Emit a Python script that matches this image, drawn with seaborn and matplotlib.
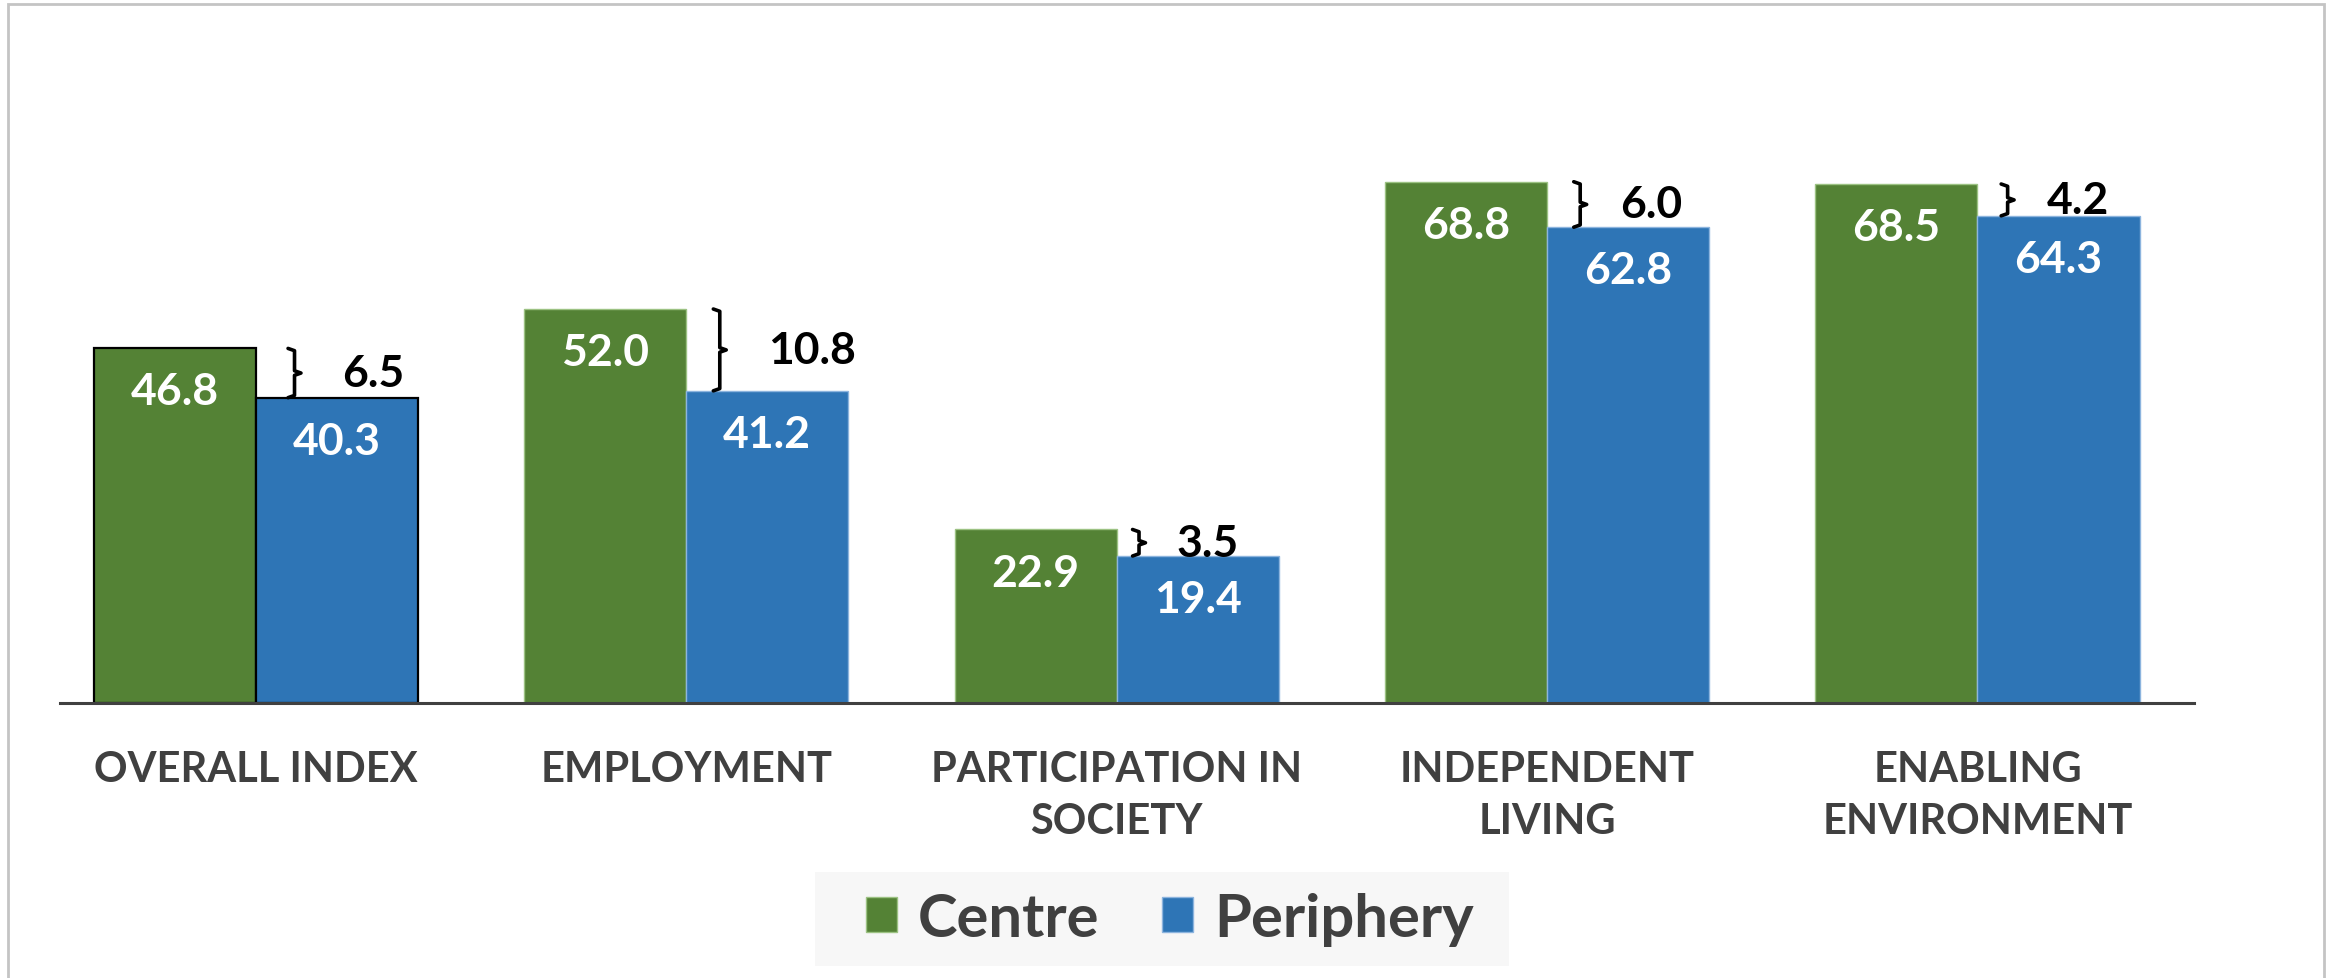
import pandas as pd
import matplotlib.pyplot as plt
import seaborn as sns
from matplotlib.patches import Patch, Rectangle

# data
categories = ["OVERALL INDEX", "EMPLOYMENT", "PARTICIPATION IN SOCIETY",
              "INDEPENDENT LIVING", "ENABLING ENVIRONMENT"]
tick_labels = ["OVERALL INDEX", "EMPLOYMENT", "PARTICIPATION IN\nSOCIETY",
               "INDEPENDENT\nLIVING", "ENABLING\nENVIRONMENT"]
centre = [46.8, 52.0, 22.9, 68.8, 68.5]
periphery = [40.3, 41.2, 19.4, 62.8, 64.3]
series = ["Centre", "Periphery"]

# layout tweaks for the gap braces (in category units from the bar boundary)
brace_dx = [0.09, 0.078, 0.052, 0.077, 0.07]
gap_label_dx = [0.20, 0.19, 0.14, 0.17, 0.16]

green = "#548235"
blue = "#2E75B6"
dark = "#404040"

df = pd.DataFrame({
    "category": categories * 2,
    "value": centre + periphery,
    "region": [series[0]] * len(categories) + [series[1]] * len(categories),
})

sns.set_style("white")
plt.rcParams['font.family'] = ['Lato', 'DejaVu Sans']
plt.rcParams['font.weight'] = 'bold'

fig = plt.figure(figsize=(23.31, 9.79), dpi=100)
ax = fig.add_axes([59.5 / 2331, 1 - 704 / 979, (2194 - 59.5) / 2331, (704 - 60) / 979])

sns.barplot(data=df, x="category", y="value", hue="region",
            palette=[green, blue], width=0.753, ax=ax, legend=False,
            saturation=1)

# bar outlines: black on the overall index, faint elsewhere
for i, bar in enumerate(ax.patches[:2 * len(categories)]):
    cat = i % len(categories)
    if cat == 0:
        bar.set_edgecolor("black")
        bar.set_linewidth(1.6)
    else:
        bar.set_edgecolor("#9cc283" if i < len(categories) else "#8cb4de")
        bar.set_linewidth(1.0)

ax.set_xlim(-0.456, 4.503)
ax.set_ylim(0, 85.0)

# value labels inside bars
for i in range(len(categories)):
    for val, off in [(centre[i], -0.1883), (periphery[i], 0.1883)]:
        ax.annotate(f"{val:.1f}", (i + off, val), xytext=(0, -31),
                    textcoords="offset points", ha="center", va="center",
                    color="white", fontsize=32, fontweight="bold")

# braces and gap labels
for i in range(len(categories)):
    top, bot = centre[i], periphery[i]
    mid = (top + bot) / 2
    x = i + brace_dx[i]
    h = 0.015
    ax.plot([x - h, x, x, x + h, x, x, x - h],
            [top, top - 0.3, mid + 0.3, mid, mid - 0.3, bot + 0.3, bot],
            color="black", lw=2.6, solid_joinstyle="round", solid_capstyle="round")
    ax.text(i + gap_label_dx[i], mid, f"{top - bot:.1f}", ha="left", va="center",
            fontsize=32, fontweight="bold", color="black")

sns.despine(ax=ax, left=True)
ax.spines["bottom"].set_color(dark)
ax.spines["bottom"].set_linewidth(2.2)
ax.set_yticks([])
ax.set_xlabel("")
ax.set_ylabel("")
ax.set_xticks(range(len(categories)))
ax.set_xticklabels(tick_labels, fontsize=30, fontweight="bold", color=dark)
for t in ax.get_xticklabels():
    t.set_linespacing(1.45)
ax.tick_params(axis="x", length=0, pad=34)

# legend: light grey panel drawn separately, entries on top of it
fig.patches.append(Rectangle((815 / 2331, 1 - 967 / 979), (1509 - 815) / 2331, 94 / 979,
                             transform=fig.transFigure, facecolor="#f7f7f7",
                             edgecolor="none", zorder=0))
handles = [Patch(facecolor=green, edgecolor="#9cc283"),
           Patch(facecolor=blue, edgecolor="#8cb4de")]
leg = fig.legend(handles, series, loc="center",
                 bbox_to_anchor=(1170 / 2331, 1 - 920 / 979), ncol=2,
                 frameon=False, handlelength=0.52, handleheight=0.52,
                 handletextpad=0.35, columnspacing=1.05, borderpad=0.3,
                 prop={"size": 43, "weight": "bold"}, labelcolor=dark)

# light frame around the chart area
fig.patches.append(Rectangle((8 / 2331, -0.05), (2324 - 8) / 2331, 1.05 - 5 / 979,
                             transform=fig.transFigure, fill=False,
                             edgecolor="#c4c4c4", lw=2))

fig.savefig("out.png", dpi=100)
